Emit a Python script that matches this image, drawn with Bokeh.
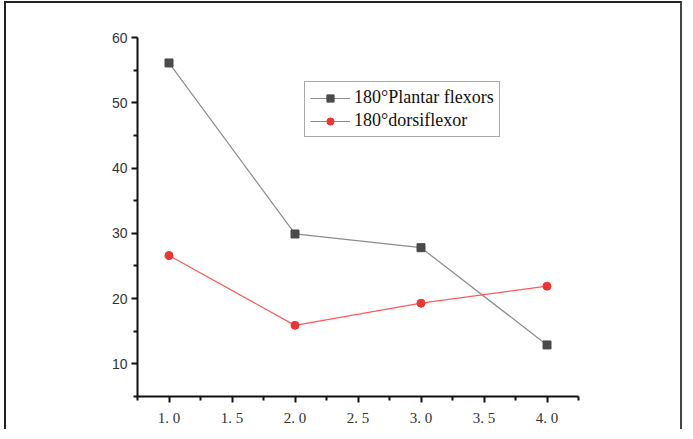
from bokeh.plotting import figure
from bokeh.models import FixedTicker, Legend, LegendItem, Range1d
from bokeh.embed import file_html
from bokeh.resources import INLINE

x = [1.0, 2.0, 3.0, 4.0]
plantar = [56.1, 29.9, 27.8, 12.9]
dorsi = [26.6, 15.9, 19.3, 21.9]
x_ticks = [1.0, 1.5, 2.0, 2.5, 3.0, 3.5, 4.0]
x_labels = ["1. 0", "1. 5", "2. 0", "2. 5", "3. 0", "3. 5", "4. 0"]
y_ticks = [10, 20, 30, 40, 50, 60]
names = ["180°Plantar flexors", "180°dorsiflexor"]

p = figure(width=676, height=426, output_backend="svg", toolbar_location=None,
           x_range=Range1d(0.75, 4.25), y_range=Range1d(5, 60),
           min_border_left=131, min_border_right=102, min_border_top=34, min_border_bottom=33)
p.frame_width = 441
p.frame_height = 359
p.styles = {"border-top": "2px solid #222", "border-left": "2px solid #222",
            "border-right": "2px solid #444", "margin-left": "4px", "margin-top": "1px"}
p.outline_line_color = None
p.grid.visible = False

l1 = p.line(x, plantar, line_color="#8c8c8c", line_width=1.2)
s1 = p.scatter(x, plantar, marker="square", size=8, fill_color="#4a4a4a", line_color="#4a4a4a")
l2 = p.line(x, dorsi, line_color="#ff5a5a", line_width=1.2)
s2 = p.scatter(x, dorsi, marker="circle", size=8, fill_color="#ee3333", line_color="#ee3333")

p.xaxis.ticker = FixedTicker(ticks=x_ticks, minor_ticks=[0.75, 1.25, 1.75, 2.25, 2.75, 3.25, 3.75, 4.25])
p.xaxis.major_label_overrides = {t: s for t, s in zip(x_ticks, x_labels)}
p.yaxis.ticker = FixedTicker(ticks=y_ticks, minor_ticks=[5, 15, 25, 35, 45, 55])

for ax in (p.xaxis, p.yaxis):
    ax.axis_line_color = "#111111"
    ax.axis_line_width = 2
    ax.major_tick_line_color = "#111111"
    ax.major_tick_line_width = 2
    ax.minor_tick_line_color = "#111111"
    ax.minor_tick_line_width = 2
    ax.major_tick_out = 6
    ax.major_tick_in = 0
    ax.minor_tick_out = 4
    ax.minor_tick_in = 0
    ax.major_label_text_color = "#333333"
    ax.major_label_text_font_size = "14px"
p.xaxis.major_label_text_font = "Liberation Serif"
p.xaxis.major_label_text_font_size = "15px"
p.xaxis.major_label_standoff = 7
p.yaxis.major_label_text_font = "Liberation Sans"
p.yaxis.major_label_standoff = 4

legend = Legend(items=[LegendItem(label=names[0], renderers=[l1, s1]),
                       LegendItem(label=names[1], renderers=[l2, s2])],
                location=(167, 259))
legend.border_line_color = "#555555"
legend.border_line_width = 1
legend.label_text_font = "Liberation Serif"
legend.label_text_font_size = "18px"
legend.label_text_color = "#111111"
legend.glyph_width = 40
legend.glyph_height = 18
legend.label_height = 18
legend.spacing = 2
legend.padding = 5
legend.margin = 0
legend.label_standoff = 4
legend.background_fill_alpha = 1
p.add_layout(legend, "center")

open("out.html", "w").write(file_html(p, INLINE))
